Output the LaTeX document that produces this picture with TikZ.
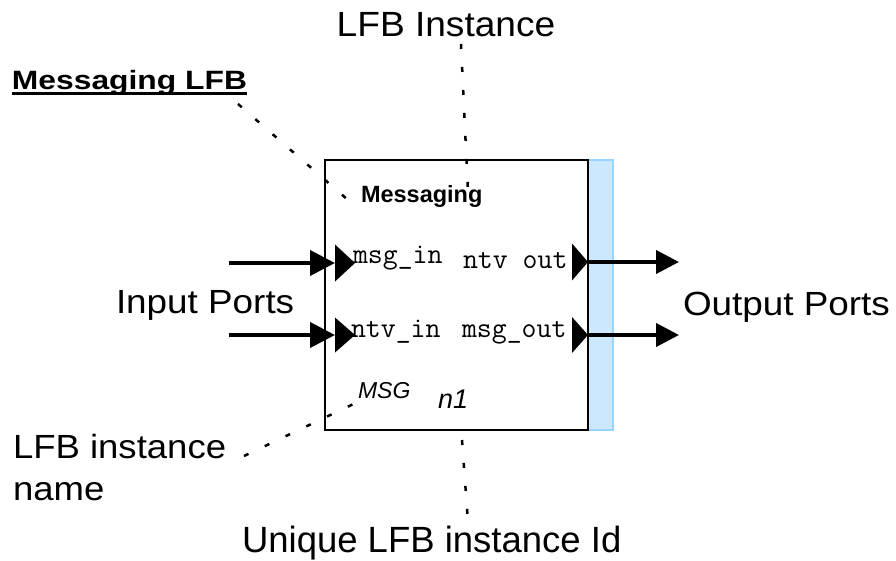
\documentclass[tikz,border=0pt]{standalone}
\usepackage{fontspec}
\setmainfont{Liberation Sans}
\usetikzlibrary{arrows.meta}
\definecolor{stripfill}{HTML}{CCE8FF}
\definecolor{stripdraw}{HTML}{99D3FF}
\newcommand{\fsz}[1]{\fontsize{#1}{#1}\selectfont}
\begin{document}
\begin{tikzpicture}[x=1pt,y=-1pt,
  lbl/.style={anchor=base west,inner sep=0pt,outer sep=0pt},
  clbl/.style={anchor=base,inner sep=0pt,outer sep=0pt},
  flowin/.style={line width=4pt,-{Triangle[length=25pt,width=25pt]}},
  flowout/.style={line width=4pt,-{Triangle[length=23pt,width=23pt]}},
  leader/.style={line width=2.5pt,dash pattern=on 5pt off 18pt},
  porttri/.style={fill=black}]
\useasboundingbox (0,0) rectangle (896,561);

% strip and box
\node[draw=stripdraw,fill=stripfill,line width=2pt,minimum width=25pt,minimum height=270pt,inner sep=0pt,outer sep=0pt] (strip) at (600.5,295) {};
\node[draw,fill=white,line width=2pt,minimum width=263pt,minimum height=270pt,inner sep=0pt,outer sep=0pt] (lfb) at (456.5,295) {};

% texts
\node[clbl] (inst) at (446,37) {\scalebox{1.06}[1]{\fsz{35}LFB Instance}};
\node[lbl] (mlfb) at (12,90) {\scalebox{1.2}[1]{\bfseries\fsz{26.5}Messaging LFB}};
\draw[line width=3pt] ([yshift=-3.5pt]mlfb.base west) -- ([yshift=-3.5pt]mlfb.base east);
\node[lbl] (msgname) at (361,203) {\bfseries\fsz{23.5}Messaging};
\node[lbl] (pin1) at (353,263) {\ttfamily\fsz{29}msg\_in};
\node[lbl] (pout1) at (463,268) {\ttfamily\fsz{29}ntv out};
\node[lbl] (pin2) at (351,337) {\ttfamily\fsz{29}ntv\_in};
\node[lbl] (pout2) at (462,337) {\ttfamily\fsz{29}msg\_out};
\node[lbl] (iname) at (358,398) {\itshape\fsz{23}MSG};
\node[lbl] (iid) at (438,408) {\itshape\fsz{27}n1};
\node[lbl] (inports) at (116,313) {\scalebox{1.1}[1]{\fsz{33.5}Input Ports}};
\node[lbl] (outports) at (683,315) {\scalebox{1.1}[1]{\fsz{33.5}Output Ports}};
\node[lbl] (lname1) at (13,458) {\scalebox{1.09}[1]{\fsz{33.5}LFB instance}};
\node[lbl] (lname2) at (13,500) {\scalebox{1.09}[1]{\fsz{33.5}name}};
\node[lbl] (uid) at (242,552) {\fsz{36.5}Unique LFB instance Id};

% ports
\coordinate (ip1) at (335,263);
\coordinate (ip2) at (335,335);
\coordinate (op1) at (588,262);
\coordinate (op2) at (588,335);
\fill[porttri] (ip1) -- ++(0,-18.5) -- ++(20,18.5) -- ++(-20,18.5) -- cycle;
\fill[porttri] (ip2) -- ++(0,-17.5) -- ++(20,17.5) -- ++(-20,17.5) -- cycle;
\fill[porttri] (op1) -- ++(-16,-18.5) -- ++(0,37) -- cycle;
\fill[porttri] (op2) -- ++(-16,-18) -- ++(0,36) -- cycle;

% flows
\coordinate (in1) at (229,263);
\coordinate (in2) at (229,335);
\coordinate (out1) at (679,262);
\coordinate (out2) at (679,335);
\draw[flowin] (in1) -- (ip1);
\draw[flowin] (in2) -- (ip2);
\draw[flowout] (op1) -- (out1);
\draw[flowout] (op2) -- (out2);

% leaders
\coordinate (l1a) at (461,44);
\coordinate (l1b) at (468,192);
\coordinate (l2a) at (238,104);
\coordinate (l2b) at (348,200);
\coordinate (l3a) at (244,456);
\coordinate (l3b) at (364,399);
\coordinate (l4a) at (462,440);
\coordinate (l4b) at (468,522);
\draw[leader] (l1a) -- (l1b);
\draw[leader] (l2a) -- (l2b);
\draw[leader] (l3a) -- (l3b);
\draw[leader] (l4a) -- (l4b);
\end{tikzpicture}
\end{document}
